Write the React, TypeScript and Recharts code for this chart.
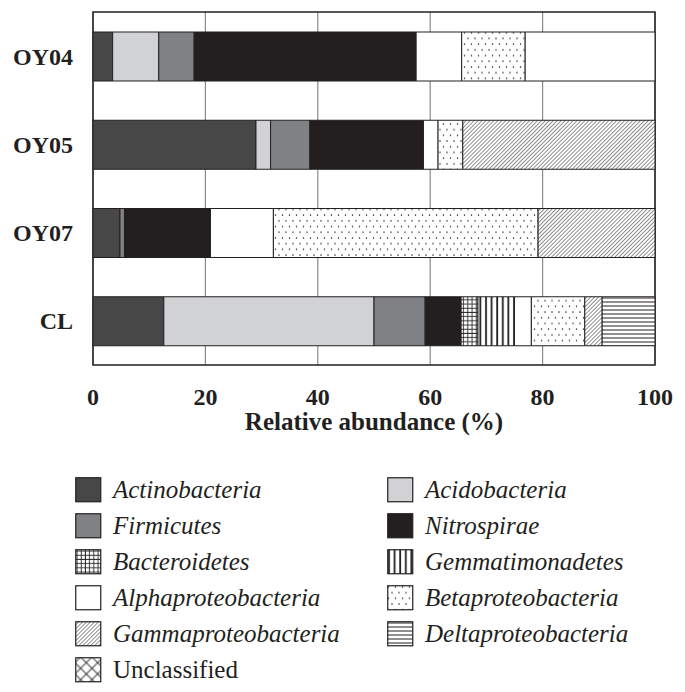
import { Bar, BarChart, CartesianGrid, ReferenceArea, XAxis, YAxis } from 'recharts'

const samples = ['OY04', 'OY05', 'OY07', 'CL']

const actinobacteria = [3.5, 29.0, 4.8, 12.6]
const acidobacteria = [8.2, 2.6, 0, 37.4]
const firmicutes = [6.3, 7.0, 0.8, 9.1]
const nitrospirae = [39.5, 20.2, 15.3, 6.4]
const bacteroidetes = [0, 0, 0, 3.0]
const gemmatimonadetes = [0, 0, 0, 6.5]
const alphaproteobacteria = [8.1, 2.6, 11.2, 3.0]
const betaproteobacteria = [11.3, 4.4, 47.1, 9.5]
const gammaproteobacteria = [0, 34.2, 20.8, 3.1]
const deltaproteobacteria = [0, 0, 0, 9.4]
const unclassified = [0, 0, 0, 0]
const other = [23.1, 0, 0, 0]

const xTicks = [0, 20, 40, 60, 80, 100]

const INK = '#231f20'
const FONT = '"Liberation Serif", "Times New Roman", serif'

const series = [
  { key: 'actino', name: 'Actinobacteria', values: actinobacteria, fill: '#474747', italic: true },
  { key: 'acido', name: 'Acidobacteria', values: acidobacteria, fill: '#d1d2d4', italic: true },
  { key: 'firm', name: 'Firmicutes', values: firmicutes, fill: '#808184', italic: true },
  { key: 'nitro', name: 'Nitrospirae', values: nitrospirae, fill: INK, italic: true },
  { key: 'bact', name: 'Bacteroidetes', values: bacteroidetes, fill: 'url(#pGrid)', italic: true },
  { key: 'gemm', name: 'Gemmatimonadetes', values: gemmatimonadetes, fill: 'url(#pVert)', italic: true },
  { key: 'alpha', name: 'Alphaproteobacteria', values: alphaproteobacteria, fill: '#ffffff', italic: true },
  { key: 'beta', name: 'Betaproteobacteria', values: betaproteobacteria, fill: 'url(#pDots)', italic: true },
  { key: 'gamma', name: 'Gammaproteobacteria', values: gammaproteobacteria, fill: 'url(#pDiag)', italic: true },
  { key: 'delta', name: 'Deltaproteobacteria', values: deltaproteobacteria, fill: 'url(#pHoriz)', italic: true },
  { key: 'uncl', name: 'Unclassified', values: unclassified, fill: 'url(#pCross)', italic: false },
  { key: 'other', name: 'Other', values: other, fill: '#ffffff', italic: false, noLegend: true },
]

const rows = samples.map((s, i) => {
  const r: Record<string, any> = { sample: s }
  series.forEach(se => { r[se.key] = se.values[i] })
  return r
})

const legendItems = series.filter(s => !s.noLegend)

function Patterns() {
  return (
    <svg width={0} height={0} style={{ position: 'absolute' }}>
      <defs>
        <pattern id="pDots" width={7} height={11.4} patternUnits="userSpaceOnUse">
          <rect width={7} height={11.4} fill="#fff" />
          <circle cx={1.5} cy={2} r={0.75} fill={INK} />
          <circle cx={5} cy={7.7} r={0.75} fill={INK} />
        </pattern>
        <pattern id="pDiag" width={2.8} height={2.8} patternUnits="userSpaceOnUse" patternTransform="rotate(45)">
          <rect width={2.8} height={2.8} fill="#fff" />
          <line x1={0} y1={0} x2={0} y2={2.8} stroke={INK} strokeWidth={1} />
        </pattern>
        <pattern id="pHoriz" width={4} height={4} patternUnits="userSpaceOnUse">
          <rect width={4} height={4} fill="#fff" />
          <line x1={0} y1={2} x2={4} y2={2} stroke={INK} strokeWidth={1} />
        </pattern>
        <pattern id="pVert" width={5.6} height={5} patternUnits="userSpaceOnUse">
          <rect width={5.6} height={5} fill="#fff" />
          <line x1={2} y1={0} x2={2} y2={5} stroke={INK} strokeWidth={1.8} />
        </pattern>
        <pattern id="pGrid" width={4.2} height={4.2} patternUnits="userSpaceOnUse">
          <rect width={4.2} height={4.2} fill="#fff" />
          <line x1={0} y1={2} x2={4.2} y2={2} stroke={INK} strokeWidth={0.9} />
          <line x1={2} y1={0} x2={2} y2={4.2} stroke={INK} strokeWidth={0.9} />
        </pattern>
        <pattern id="pCross" width={8} height={8} patternUnits="userSpaceOnUse" patternTransform="rotate(45)">
          <rect width={8} height={8} fill="#fff" />
          <line x1={0} y1={4} x2={8} y2={4} stroke={INK} strokeWidth={0.9} />
          <line x1={4} y1={0} x2={4} y2={8} stroke={INK} strokeWidth={0.9} />
        </pattern>
      </defs>
    </svg>
  )
}

export default function App() {
  return (
    <div style={{ position: 'relative', width: 669, height: 684, fontFamily: FONT }}>
      <Patterns />
      <BarChart
        width={669}
        height={432}
        data={rows}
        layout="vertical"
        barSize={49}
        margin={{ top: 4, right: 22, left: 0, bottom: 0 }}
      >
        <CartesianGrid horizontal={false} stroke="#8a8a8a" strokeWidth={1.2} />
        <XAxis
          type="number"
          domain={[0, 100]}
          ticks={xTicks}
          tickLine={false}
          axisLine={false}
          height={75}
          tickMargin={17}
          tick={{ fontSize: 24, fontWeight: 700, fill: INK, fontFamily: FONT }}
          label={{ value: 'Relative abundance (%)', position: 'insideBottom', offset: 10, style: { fontSize: 25, fontWeight: 700, fill: INK, fontFamily: FONT } }}
        />
        <YAxis
          type="category"
          dataKey="sample"
          width={85}
          tickLine={false}
          axisLine={false}
          tickMargin={14}
          tick={{ fontSize: 24, fontWeight: 700, fill: INK, fontFamily: FONT }}
        />
        {series.map(s => (
          <Bar key={s.key} dataKey={s.key} name={s.name} stackId="a" fill={s.fill} stroke={INK} strokeWidth={1} isAnimationActive={false} />
        ))}
        <ReferenceArea x1={0} x2={100} fill="none" stroke={INK} strokeWidth={1.5} ifOverflow="visible" />
      </BarChart>
      {legendItems.map((s, i) => {
        const col = i % 2
        const row = Math.floor(i / 2)
        return (
          <div
            key={s.key}
            style={{
              position: 'absolute',
              left: col === 0 ? 67 : 379,
              top: 464 + row * 36,
              height: 36,
              display: 'flex',
              alignItems: 'center',
              color: INK,
            }}
          >
            <svg width={27} height={26} style={{ marginRight: 11 }}>
              <rect x={0.75} y={0.75} width={25} height={24} fill={s.fill} stroke={INK} strokeWidth={1.2} />
            </svg>
            <span style={{ fontSize: 25, fontStyle: s.italic ? 'italic' : 'normal' }}>{s.name}</span>
          </div>
        )
      })}
    </div>
  )
}
